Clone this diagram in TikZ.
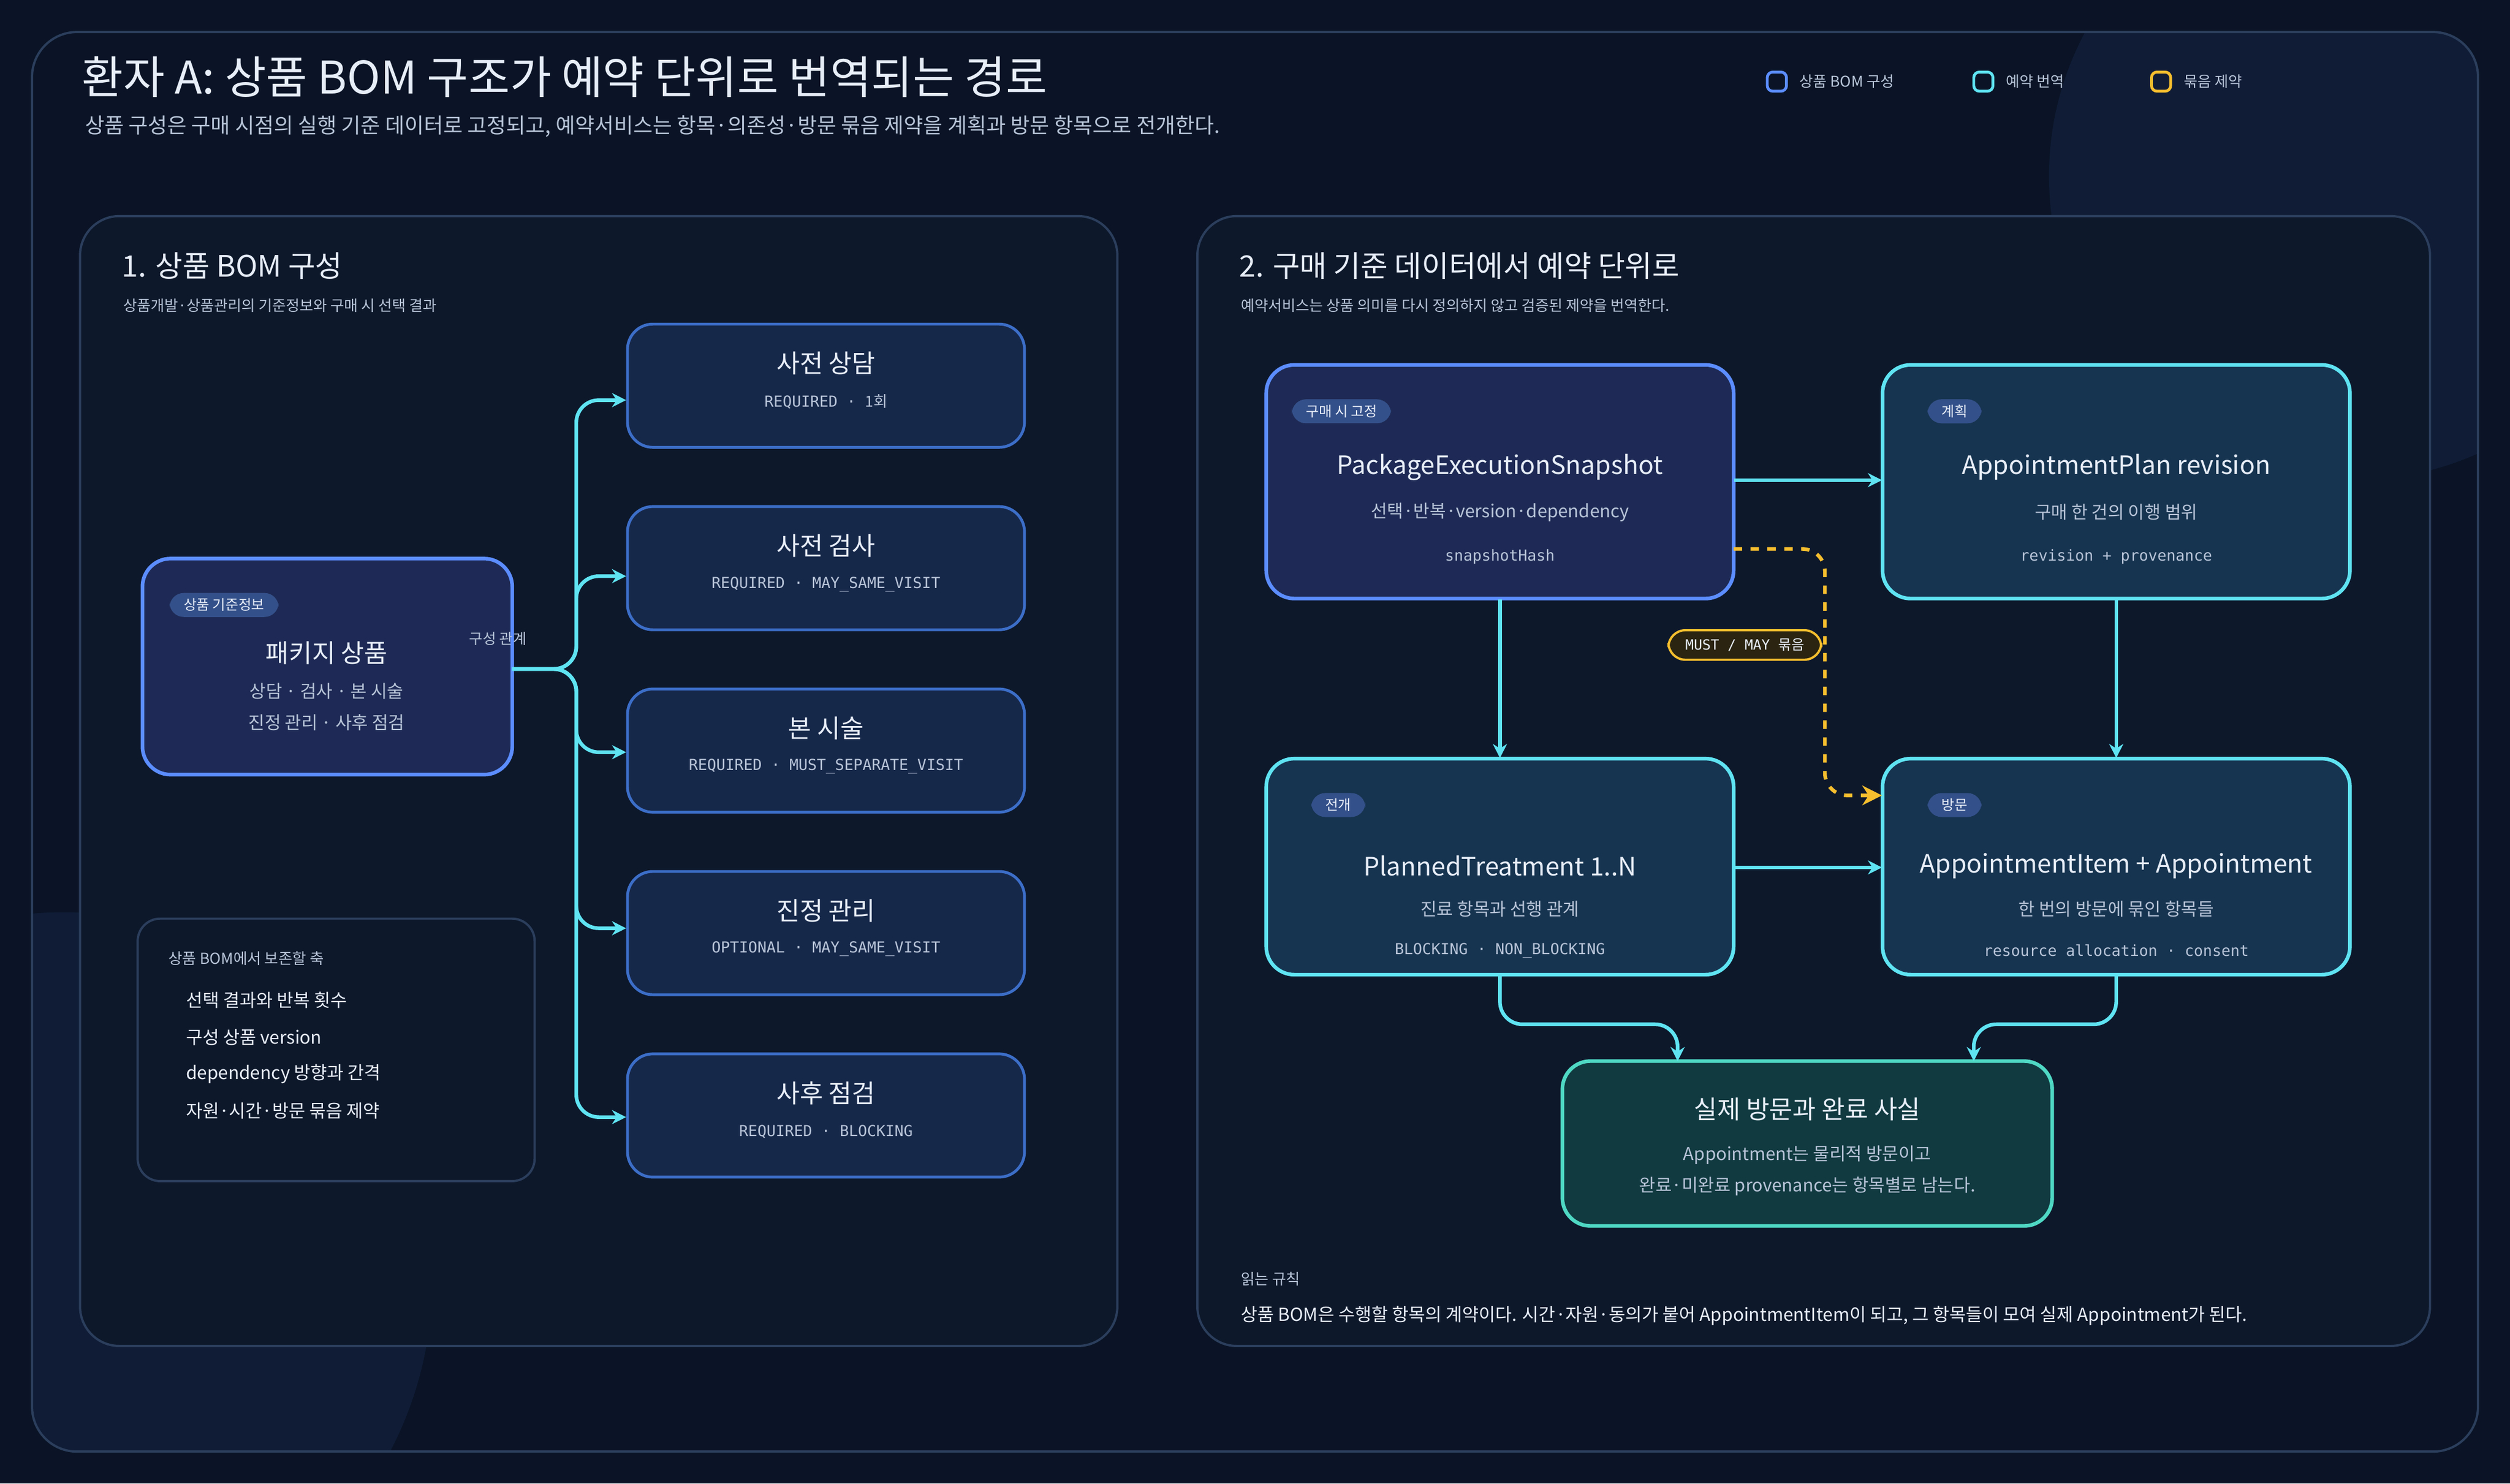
\documentclass[tikz,border=0pt]{standalone}
\usepackage{fontspec}
\setmainfont{Noto Sans CJK KR}
\newfontfamily\mn{DejaVu Sans Mono}
\usetikzlibrary{arrows.meta}
\definecolor{bg}{HTML}{0A1426}
\definecolor{deco}{HTML}{101C36}
\definecolor{panel}{HTML}{0D182B}
\definecolor{pline}{HTML}{2B3E5C}
\definecolor{bfill}{HTML}{1E2A55}
\definecolor{bline}{HTML}{5C8DFF}
\definecolor{nfill}{HTML}{16284A}
\definecolor{nline}{HTML}{3C6EC8}
\definecolor{cfill}{HTML}{163450}
\definecolor{cline}{HTML}{5FE3F2}
\definecolor{tfill}{HTML}{103A40}
\definecolor{tline}{HTML}{4FD8C4}
\definecolor{ylw}{HTML}{F5BE2E}
\definecolor{yfill}{HTML}{2A2410}
\definecolor{txt}{HTML}{E8EEF8}
\definecolor{sub}{HTML}{B8C4D8}
\definecolor{tagf}{HTML}{34508A}
\tikzset{
 panel/.style={draw=pline,fill=panel,rounded corners=14pt,line width=0.8pt},
 blue/.style={draw=bline,fill=bfill,rounded corners=10pt,line width=1.3pt},
 bom/.style={draw=nline,fill=nfill,rounded corners=9pt,line width=1pt},
 cyan/.style={draw=cline,fill=cfill,rounded corners=10pt,line width=1.3pt},
 teal/.style={draw=tline,fill=tfill,rounded corners=10pt,line width=1.3pt},
 tag/.style={fill=tagf,rounded corners=5pt,text=txt,font=\fontsize{5}{6}\selectfont,inner xsep=5pt,inner ysep=2pt},
 ttl/.style={text=txt,font=\fontsize{9}{11}\selectfont},
 body/.style={text=sub,font=\fontsize{6.3}{8}\selectfont},
 mono/.style={text=sub,font=\fontsize{5.4}{7}\selectfont\mn},
 arr/.style={draw=cline,line width=1.3pt,-{Stealth[length=5pt,width=5pt]}},
}
\begin{document}
\begin{tikzpicture}[x=0.02cm,y=-0.02cm]
\fill[bg] (0,0) rectangle (1568,927);
\useasboundingbox (0,0) rectangle (1568,927);
\begin{scope}
\clip[rounded corners=16pt] (20,20) rectangle (1548,907);
\fill[deco] (1470,110) circle (190);
\fill[deco] (40,800) circle (230);
\end{scope}
\draw[pline,rounded corners=16pt,line width=0.8pt] (20,20) rectangle (1548,907);
\node[anchor=west,text=txt,font=\fontsize{16}{19}\selectfont] (title) at (45,48) {환자 A: 상품 BOM 구조가 예약 단위로 번역되는 경로};
\node[anchor=west,text=sub,font=\fontsize{7.5}{9}\selectfont] (subt) at (47,79) {상품 구성은 구매 시점의 실행 기준 데이터로 고정되고, 예약서비스는 항목·의존성·방문 묶음 제약을 계획과 방문 항목으로 전개한다.};
% legend
\draw[bline,rounded corners=2pt,line width=1pt] (1104,45) rectangle (1116,57);
\node[anchor=west,text=sub,font=\fontsize{5.3}{6}\selectfont] (l1) at (1118,51) {상품 BOM 구성};
\draw[cline,rounded corners=2pt,line width=1pt] (1233,45) rectangle (1245,57);
\node[anchor=west,text=sub,font=\fontsize{5.3}{6}\selectfont] (l2) at (1247,51) {예약 번역};
\draw[ylw,rounded corners=2pt,line width=1pt] (1344,45) rectangle (1356,57);
\node[anchor=west,text=sub,font=\fontsize{5.3}{6}\selectfont] (l3) at (1358,51) {묶음 제약};
% panels
\draw[panel] (50,135) rectangle (698,841);
\draw[panel] (748,135) rectangle (1518,841);
\node[anchor=west,text=txt,font=\fontsize{10.5}{12}\selectfont] (p1) at (70,166) {1. 상품 BOM 구성};
\node[anchor=west,text=sub,font=\fontsize{5.3}{6}\selectfont] (p1s) at (71,191) {상품개발·상품관리의 기준정보와 구매 시 선택 결과};
\node[anchor=west,text=txt,font=\fontsize{10.5}{12}\selectfont] (p2) at (768,166) {2. 구매 기준 데이터에서 예약 단위로};
\node[anchor=west,text=sub,font=\fontsize{5.3}{6}\selectfont] (p2s) at (769,191) {예약서비스는 상품 의미를 다시 정의하지 않고 검증된 제약을 번역한다.};
% package node
\draw[blue] (89,349) rectangle (320,484);
\node[minimum width=231*0.02cm,minimum height=135*0.02cm,inner sep=0] (pkg) at (204.5,416.5) {};
\node[tag] (pkgtag) at (140,378) {상품 기준정보};
\node[ttl] (pkgt) at (204,408) {패키지 상품};
\node[body] (pkgb) at (204,443) {\begin{tabular}{@{}c@{}}상담 · 검사 · 본 시술\\[3pt] 진정 관리 · 사후 점검\end{tabular}};
\node[text=sub,font=\fontsize{5.2}{6}\selectfont] (rel) at (311,399) {구성 관계};
% BOM nodes
\foreach \n/\y/\t in {a/241/사전 상담, b/355/사전 검사, c/469/본 시술, d/583/진정 관리, e/697/사후 점검}{
 \node[bom,minimum width=248*0.02cm,minimum height=77*0.02cm] (\n) at (516,\y) {};
 \node[ttl] (\n t) at (516,\y-14) {\t};
}
\node[mono] at (516,251) {REQUIRED · \rmfamily 1회};
\node[mono] at (516,365) {REQUIRED · MAY\_SAME\_VISIT};
\node[mono] at (516,479) {REQUIRED · MUST\_SEPARATE\_VISIT};
\node[mono] at (516,593) {OPTIONAL · MAY\_SAME\_VISIT};
\node[mono] at (516,707) {REQUIRED · BLOCKING};
\coordinate (tr) at (320,418);
\foreach \n/\y in {a/250,b/360,c/470,d/580,e/698}{
 \draw[arr,rounded corners=8pt] (tr) -- (360,418) -- (360,\y) -- (\n.west |- 0,\y);
}
% notes
\draw[draw=pline,fill=panel,rounded corners=8pt,line width=0.8pt] (86,574) rectangle (334,738);
\node[anchor=west,text=sub,font=\fontsize{5.4}{6}\selectfont] (nh) at (99,599) {상품 BOM에서 보존할 축};
\foreach \y/\t in {625/선택 결과와 반복 횟수,648/구성 상품 version,671/dependency 방향과 간격,694/자원·시간·방문 묶음 제약}
 \node[anchor=west,text=txt,font=\fontsize{6.4}{8}\selectfont] at (110,\y) {\t};
% panel 2 nodes
\draw[blue] (791,228) rectangle (1083,374);
\node[minimum width=292*0.02cm,minimum height=146*0.02cm,inner sep=0] (pes) at (937,301) {};
\node[tag] at (838,257) {구매 시 고정};
\node[ttl] at (937,292) {PackageExecutionSnapshot};
\node[body] at (937,320) {선택·반복·version·dependency};
\node[mono] at (937,348) {snapshotHash};
\draw[cyan] (1176,228) rectangle (1468,374);
\node[minimum width=292*0.02cm,minimum height=146*0.02cm,inner sep=0] (ap) at (1322,301) {};
\node[tag] at (1221,257) {계획};
\node[ttl] at (1322,292) {AppointmentPlan revision};
\node[body] at (1322,320) {구매 한 건의 이행 범위};
\node[mono] at (1322,348) {revision + provenance};
\draw[cyan] (791,474) rectangle (1083,609);
\node[minimum width=292*0.02cm,minimum height=135*0.02cm,inner sep=0] (pt) at (937,541.5) {};
\node[tag] at (836,503) {전개};
\node[ttl] at (937,541) {PlannedTreatment 1..N};
\node[body] at (937,568) {진료 항목과 선행 관계};
\node[mono] at (937,594) {BLOCKING · NON\_BLOCKING};
\draw[cyan] (1176,474) rectangle (1468,609);
\node[minimum width=292*0.02cm,minimum height=135*0.02cm,inner sep=0] (ai) at (1322,541.5) {};
\node[tag] at (1221,503) {방문};
\node[ttl] at (1322,541) {AppointmentItem + Appointment};
\node[body] at (1322,568) {한 번의 방문에 묶인 항목들};
\node[mono] at (1322,594) {resource allocation · consent};
\draw[teal] (976,663) rectangle (1282,766);
\node[minimum width=306*0.02cm,minimum height=103*0.02cm,inner sep=0] (fin) at (1129,714.5) {};
\node[ttl] at (1129,693) {실제 방문과 완료 사실};
\node[body] at (1129,732) {\begin{tabular}{@{}c@{}}Appointment는 물리적 방문이고\\[3pt] 완료·미완료 provenance는 항목별로 남는다.\end{tabular}};
% arrows panel 2
\draw[arr] (pes.east |- 0,300) -- (ap.west |- 0,300);
\draw[arr] (pes.south) -- (pt.north);
\draw[arr] (ap.south) -- (ai.north);
\draw[arr] (pt.east |- 0,542) -- (ai.west |- 0,542);
\draw[arr,rounded corners=8pt] (pt.south) -- (937,640) -- (1048,640) -- (1048,663);
\draw[arr,rounded corners=8pt] (ai.south) -- (1322,640) -- (1233,640) -- (1233,663);
\draw[ylw,line width=1.3pt,dashed,rounded corners=8pt,-{Stealth[length=7pt,width=7pt]}] (1083,343) -- (1140,343) -- (1140,497) -- (ai.west |- 0,497);
\node[draw=ylw,fill=yfill,rounded corners=6pt,line width=0.8pt,text=txt,font=\fontsize{5}{6}\selectfont\mn,inner xsep=6pt,inner ysep=3pt] (must) at (1090,403) {MUST / MAY \rmfamily 묶음};
\node[anchor=west,text=sub,font=\fontsize{5.4}{6}\selectfont] (rr) at (769,799) {읽는 규칙};
\node[anchor=west,text=txt,font=\fontsize{6.4}{8}\selectfont] (rt) at (769,822) {상품 BOM은 수행할 항목의 계약이다. 시간·자원·동의가 붙어 AppointmentItem이 되고, 그 항목들이 모여 실제 Appointment가 된다.};
\end{tikzpicture}
\end{document}
